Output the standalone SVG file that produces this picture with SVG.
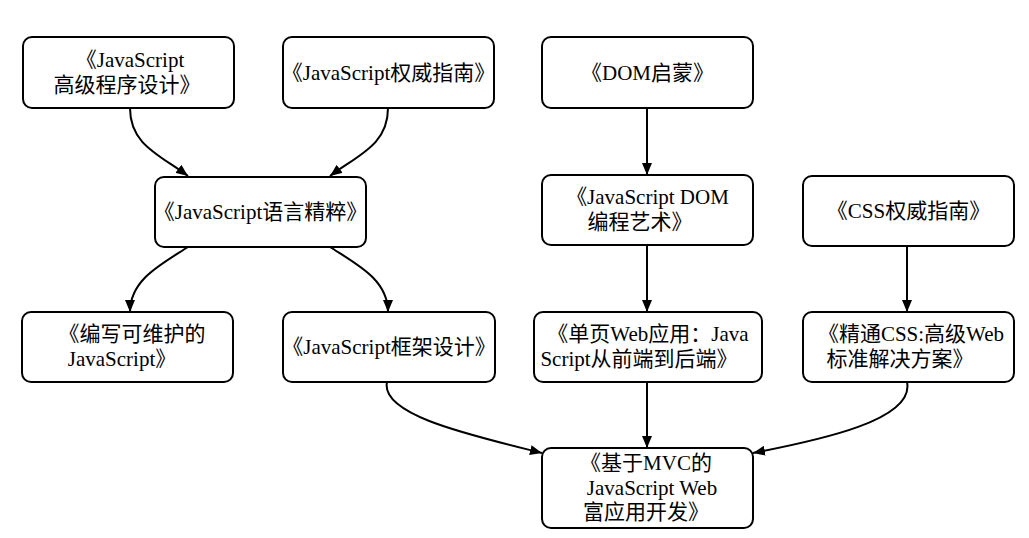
<svg xmlns="http://www.w3.org/2000/svg" width="1029" height="538" viewBox="0 0 1029 538">
<style>
.box{fill:#fff;stroke:#000;stroke-width:2}
.t{font-family:"Liberation Serif","Noto Sans CJK SC",serif;font-size:21px;fill:#000;text-anchor:middle}
.e{fill:none;stroke:#000;stroke-width:2}
</style>
<defs>
<marker id="arr" viewBox="0 0 12 10" refX="12" refY="5" markerWidth="12" markerHeight="10" markerUnits="userSpaceOnUse" orient="auto">
<path d="M0,0 L12,5 L0,10 Z" fill="#000"/>
</marker>
</defs>
<rect width="1029" height="538" fill="#fff"/>
<g id="edges">
<path class="e" d="M130,108 C130,145 160,155 188,176" marker-end="url(#arr)"/>
<path class="e" d="M388,108 C388,145 358,155 330,176" marker-end="url(#arr)"/>
<path class="e" d="M188,247 C160,265 130,280 130,312" marker-end="url(#arr)"/>
<path class="e" d="M330,247 C358,265 388,280 388,312" marker-end="url(#arr)"/>
<path class="e" d="M647,108 L647,175" marker-end="url(#arr)"/>
<path class="e" d="M647,245 L647,312" marker-end="url(#arr)"/>
<path class="e" d="M907,246 L907,312" marker-end="url(#arr)"/>
<path class="e" d="M647,382 L647,448" marker-end="url(#arr)"/>
<path class="e" d="M387,382 C380,415 470,435 542,453" marker-end="url(#arr)"/>
<path class="e" d="M907,382 C915,420 820,440 753,453" marker-end="url(#arr)"/>
</g>
<g id="n1"><rect class="box" x="23" y="37" width="211" height="71" rx="9"/><text class="t" x="130" y="67">《JavaScript</text><text class="t" x="127" y="92">高级程序设计》</text></g>
<g id="n2"><rect class="box" x="283" y="37" width="211" height="71" rx="9"/><text class="t" x="388.5" y="80">《JavaScript权威指南》</text></g>
<g id="n3"><rect class="box" x="542" y="37" width="211" height="71" rx="9"/><text class="t" x="647.5" y="80">《DOM启蒙》</text></g>
<g id="n4"><rect class="box" x="155" y="177" width="211" height="70" rx="9"/><text class="t" x="260.5" y="219">《JavaScript语言精粹》</text></g>
<g id="n5"><rect class="box" x="542" y="175" width="211" height="70" rx="9"/><text class="t" x="647.5" y="204">《JavaScript DOM</text><text class="t" x="640" y="229">编程艺术》</text></g>
<g id="n6"><rect class="box" x="803" y="176" width="211" height="70" rx="9"/><text class="t" x="908.5" y="218">《CSS权威指南》</text></g>
<g id="n7"><rect class="box" x="22" y="312" width="211" height="70" rx="9"/><text class="t" x="132" y="341">《编写可维护的</text><text class="t" x="122" y="366">JavaScript》</text></g>
<g id="n8"><rect class="box" x="283" y="312" width="212" height="70" rx="9"/><text class="t" x="389" y="354">《JavaScript框架设计》</text></g>
<g id="n9"><rect class="box" x="534" y="312" width="228" height="70" rx="9"/><text class="t" x="648" y="341">《单页Web应用：Java</text><text class="t" x="639" y="366">Script从前端到后端》</text></g>
<g id="n10"><rect class="box" x="803" y="312" width="211" height="70" rx="9"/><text class="t" x="911" y="341">《精通CSS:高级Web</text><text class="t" x="900" y="366">标准解决方案》</text></g>
<g id="n11"><rect class="box" x="542" y="448" width="211" height="80" rx="9"/><text class="t" x="646" y="470">《基于MVC的</text><text class="t" x="652" y="495">JavaScript Web</text><text class="t" x="646" y="519">富应用开发》</text></g>
</svg>
